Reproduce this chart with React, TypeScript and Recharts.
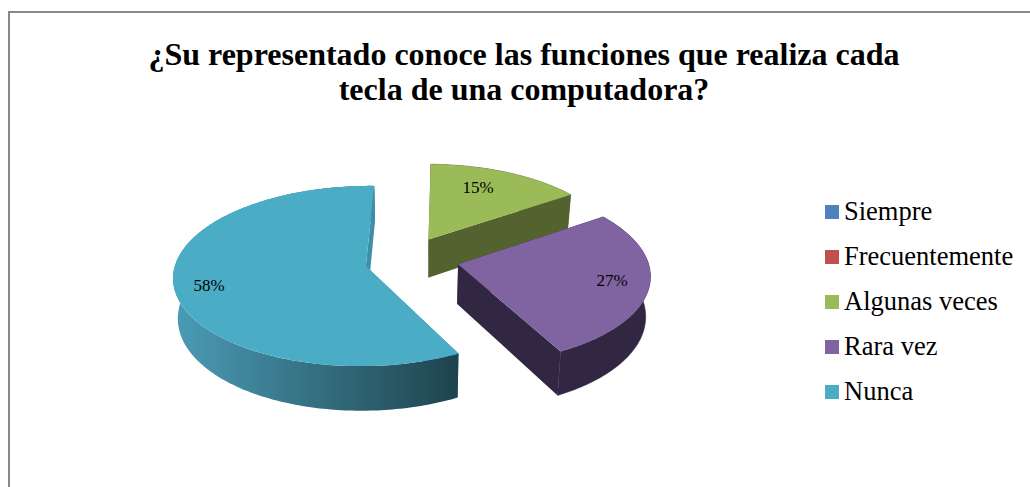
import { PieChart, Pie, Legend } from 'recharts';

const categories = ['Siempre', 'Frecuentemente', 'Algunas veces', 'Rara vez', 'Nunca'];
const values = [0, 0, 15, 27, 58];
const colors = ['#4f81bd', '#c0504d', '#9bbb59', '#8064a2', '#4bacc6'];
const titleLines = ['¿Su representado conoce las funciones que realiza cada', 'tecla de una computadora?'];

const data = categories.map((name, i) => ({ name, value: values[i], fill: colors[i] }));

// pie geometry: perspective and thickness of the 3D look
const RADIUS = 190;
const PERSPECTIVE = 0.1095;
const TILT = 0.464;
const THICKNESS = 39.5;
const BASE_SCALE = 0.98;
const RAD = Math.PI / 180;

// how far each slice is pulled out of the pie, and where its label sits
const slices: Record<string, any> = {
    'Algunas veces': { shift: [17, -50], label: [-16, 5], side: '#546230', wall: ['#546230', '#546230'] },
    'Rara vez': { shift: [46, 5], label: [-2, 0], side: '#322742', wall: ['#322742', '#322742'] },
    'Nunca': { shift: [-46, 8.7], label: [0, 4], side: '#3f8fa8', wall: ['#4b9cb6', '#1e434d'] },
};

const project = (cx: number, cy: number, X: number, V: number, base = false) => {
    const w = 1 - (PERSPECTIVE * V) / RADIUS;
    const x = X / w;
    const y = (TILT * V) / w;
    return base ? [cx + x * BASE_SCALE, cy + y + THICKNESS / w] : [cx + x, cy + y];
};

const toPath = (pts: number[][]) => 'M' + pts.map(p => p[0].toFixed(1) + ',' + p[1].toFixed(1)).join('L') + 'Z';

const Slice3D = (props: any) => {
    const { cx, cy, outerRadius, startAngle, endAngle, name, fill } = props;
    const cfg = slices[name];
    if (!cfg || startAngle === endAngle) return <g />;
    const [sx, sv] = cfg.shift;

    const at = (deg: number, r: number) => [sx + r * Math.cos(deg * RAD), sv - r * Math.sin(deg * RAD)];
    const steps = Math.ceil(Math.abs(startAngle - endAngle));
    const arc: number[][] = [];
    for (let i = 0; i <= steps; i++) {
        arc.push(at(startAngle + ((endAngle - startAngle) * i) / steps, outerRadius));
    }
    const top = arc.map(p => project(cx, cy, p[0], p[1]));
    const bottom = arc.map(p => project(cx, cy, p[0], p[1], true));
    const apexTop = project(cx, cy, sx, sv);
    const apexBottom = project(cx, cy, sx, sv, true);
    const id = 'wall-' + name.replace(/\s/g, '');

    // paint back to front: start face, rim, end face, then the lid
    return (
        <g>
            <defs>
                <linearGradient id={id} x1="0" y1="0" x2="1" y2="0">
                    <stop offset="0%" stopColor={cfg.wall[0]} />
                    <stop offset="100%" stopColor={cfg.wall[1]} />
                </linearGradient>
            </defs>
            <path d={toPath([apexTop, top[0], bottom[0], apexBottom])} fill={cfg.side} />
            <path d={toPath([...top, ...[...bottom].reverse()])} fill={`url(#${id})`} stroke={cfg.wall[0] === cfg.wall[1] ? cfg.side : 'none'} strokeWidth={0.5} />
            <path d={toPath([apexTop, top[steps], bottom[steps], apexBottom])} fill={cfg.side} />
            <path d={toPath([apexTop, ...top])} fill={fill} />
        </g>
    );
};

const renderLabel = (props: any) => {
    const { cx, cy, outerRadius, midAngle, name, percent } = props;
    const cfg = slices[name];
    if (!cfg || !percent) return null;
    const r = outerRadius * 0.82;
    const [x, y] = project(
        cx,
        cy,
        cfg.shift[0] + r * Math.cos(midAngle * RAD),
        cfg.shift[1] - r * Math.sin(midAngle * RAD)
    );
    return (
        <text
            x={x + cfg.label[0]}
            y={y + cfg.label[1]}
            textAnchor="middle"
            dominantBaseline="middle"
            fontFamily="'Liberation Serif'"
            fontSize={17}
            fill="#000"
        >
            {Math.round(percent * 100)}%
        </text>
    );
};

const renderLegend = ({ payload }: any) => (
    <div>
        {payload.map((entry: any) => (
            <div key={entry.value} style={{ display: 'flex', alignItems: 'center', height: 45 }}>
                <span style={{ width: 14, height: 14, background: entry.color, marginRight: 5 }} />
                <span style={{ fontFamily: "'Liberation Serif'", fontSize: 26.5, color: '#000', whiteSpace: 'nowrap' }}>
                    {entry.value}
                </span>
            </div>
        ))}
    </div>
);

const App = () => {
    return (
        <div style={{ position: 'absolute', left: 0, top: 0, width: 1030, height: 487, overflow: 'hidden', background: '#fff' }}>
            <div
                style={{
                    position: 'absolute',
                    left: 8,
                    top: 11,
                    right: -4,
                    bottom: -4,
                    borderLeft: '2px solid #888',
                    borderTop: '2px solid #888',
                }}
            />
            <PieChart
                width={1030}
                height={487}
                margin={{ top: 0, right: 0, bottom: 0, left: 0 }}
                style={{ position: 'absolute', left: 0, top: 0 }}
            >
                {titleLines.map((line, i) => (
                    <text
                        key={line}
                        x={524}
                        y={65 + i * 35}
                        textAnchor="middle"
                        fontFamily="'Liberation Serif'"
                        fontWeight="bold"
                        fontSize={32}
                        fill="#000"
                    >
                        {line}
                    </text>
                ))}
                <Pie
                    data={data}
                    dataKey="value"
                    nameKey="name"
                    cx={412}
                    cy={262}
                    outerRadius={RADIUS}
                    startAngle={88.7}
                    endAngle={-271.3}
                    stroke="none"
                    shape={Slice3D}
                    label={renderLabel}
                    labelLine={false}
                    isAnimationActive={false}
                />
                <Legend
                    layout="vertical"
                    content={renderLegend}
                    itemSorter={null}
                    wrapperStyle={{ position: 'absolute', left: 825, top: 189, width: 205 }}
                />
            </PieChart>
        </div>
    );
};

export default App;
